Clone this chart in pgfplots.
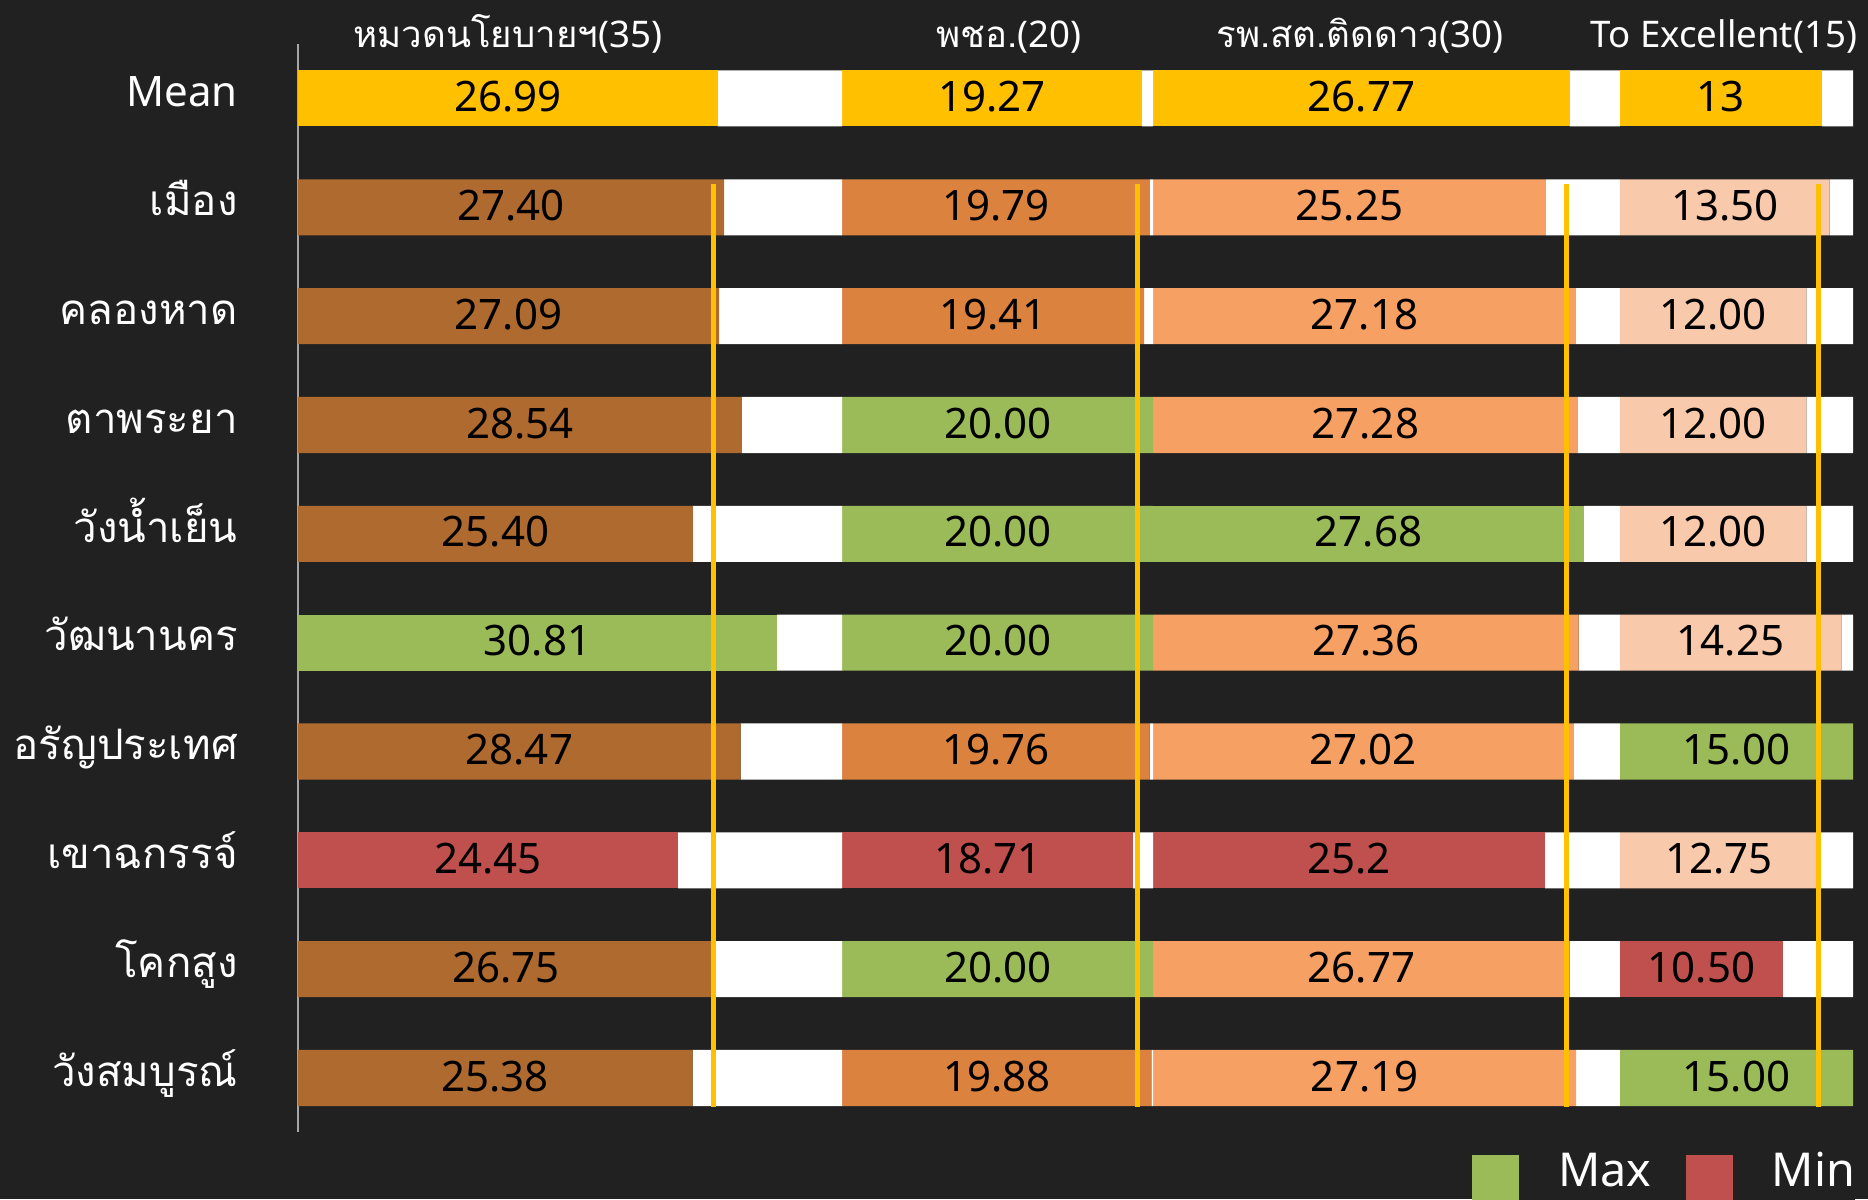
\documentclass[border=0pt]{standalone}
\usepackage{fontspec}
\setmainfont{Noto Sans}
\newfontfamily\thai[Script=Thai]{Loma}
\usepackage{pgfplots}
\usepackage{pgfplotstable}
\pgfplotsset{compat=1.18}
\definecolor{bgc}{RGB}{33,33,33}
\definecolor{cmean}{RGB}{255,192,0}
\definecolor{csa}{RGB}{174,106,47}
\definecolor{csb}{RGB}{218,130,62}
\definecolor{csc}{RGB}{247,160,99}
\definecolor{csd}{RGB}{249,201,172}
\definecolor{cmax}{RGB}{155,187,89}
\definecolor{cmin}{RGB}{192,80,77}

% class: 0 = mean, 1 = normal, 2 = max, 3 = min
\pgfplotstableread{
r a ca b cb c cc d cd
0 26.99 0 19.27 0 26.77 0 13 0
1 27.40 1 19.79 1 25.25 1 13.50 1
2 27.09 1 19.41 1 27.18 1 12.00 1
3 28.54 1 20.00 2 27.28 1 12.00 1
4 25.40 1 20.00 2 27.68 2 12.00 1
5 30.81 2 20.00 2 27.36 1 14.25 1
6 28.47 1 19.76 1 27.02 1 15.00 2
7 24.45 3 18.71 3 25.2 3 12.75 1
8 26.75 1 20.00 2 26.77 1 10.50 3
9 25.38 1 19.88 1 27.19 1 15.00 2
}\data

\newcommand\seg[4]{%
  \addplot[fill=cmean] table[y=r, x expr={\thisrow{#2}==0 ? \thisrow{#1} : 0}] {\data};
  \addplot[fill=#4] table[y=r, x expr={\thisrow{#2}==1 ? \thisrow{#1} : 0}] {\data};
  \addplot[fill=cmax] table[y=r, x expr={\thisrow{#2}==2 ? \thisrow{#1} : 0}] {\data};
  \addplot[fill=cmin] table[y=r, x expr={\thisrow{#2}==3 ? \thisrow{#1} : 0}] {\data};
  \addplot[fill=white] table[y=r, x expr={#3-\thisrow{#1}}] {\data};
}

\pgfplotsset{
  common/.style={
    width=466.5pt, height=326.5pt, scale only axis,
    xmin=0, xmax=100, ymin=-0.5, ymax=9.5, y dir=reverse,
    major tick length=0pt,
  },
  numlab/.style={forget plot, draw=none, mark=none, nodes near coords,
    point meta=explicit symbolic,
    every node near coord/.append style={anchor=base, yshift=-3.95pt,
      font=\fontsize{12.6}{15}\selectfont, text=black, inner sep=0pt}},
  meanline/.style={forget plot, cmean, line width=1.5pt},
  maxleg/.style={legend image code/.code={\fill[cmax] (0pt,-30pt) rectangle (13.8pt,5.0pt);}},
  minleg/.style={legend image code/.code={\fill[cmin] (0pt,-30pt) rectangle (13.8pt,5.0pt);}},
}

\begin{document}
\begin{tikzpicture}
\fill[bgc] (-89.4pt,-19.98pt) rectangle (471.0pt,339.72pt);
\begin{axis}[common,
  xbar stacked, bar width=0.515,
  axis x line=none, axis y line*=left,
  y axis line style={draw=gray!70, line width=0.45pt},
  xtick=\empty,
  ytick={0,...,9},
  yticklabels={Mean,{\thai เมือง},{\thai คลองหาด},{\thai ตาพระยา},{\thai วังน้ำเย็น},{\thai วัฒนานคร},{\thai อรัญประเทศ},{\thai เขาฉกรรจ์},{\thai โคกสูง},{\thai วังสมบูรณ์}},
  yticklabel style={anchor=base east, xshift=-17.9pt, yshift=-2.5pt, inner sep=0pt,
    text=white, font=\fontsize{12.6}{15}\selectfont},
  every axis plot/.append style={draw=none},
]
\seg{a}{ca}{35}{csa}
\seg{b}{cb}{20}{csb}
\seg{c}{cc}{30}{csc}
\seg{d}{cd}{15}{csd}
\end{axis}
\begin{axis}[common,
  clip=false,
  axis line style={draw=none},
  ytick=\empty,
  xtick={13.5,45.7,68.3,91.7},
  xticklabels={{\thai หมวดนโยบายฯ}(35),{\thai พชอ.}(20),{\thai รพ.สต.ติดดาว}(30),To Excellent(15)},
  xticklabel pos=upper,
  xticklabel style={anchor=base, yshift=-0.9pt, inner sep=0pt, text=white,
    font=\fontsize{11}{13}\selectfont},
  legend columns=2,
  legend cell align=left,
  legend style={at={(0.7550,-0.0184)}, anchor=north west, draw=none, fill=bgc,
    inner sep=0pt, outer sep=0pt, text=white,
    font=\fontsize{14}{16}\selectfont,
    nodes={inner sep=0pt},
    /tikz/every odd column/.append style={column sep=11.6pt},
    /tikz/every even column/.append style={column sep=10.4pt}},
]
\addlegendimage{maxleg}
\addlegendentry{Max}
\addlegendimage{minleg}
\addlegendentry{Min}
\addplot[numlab] table[y=r, x expr={\thisrow{a}/2}, meta=a] {\data};
\addplot[numlab] table[y=r, x expr={35+\thisrow{b}/2}, meta=b] {\data};
\addplot[numlab] table[y=r, x expr={55+\thisrow{c}/2}, meta=c] {\data};
\addplot[numlab] table[y=r, x expr={85+\thisrow{d}/2}, meta=d] {\data};
\addplot[meanline] coordinates {(26.75,0.79) (26.75,9.27)};
\addplot[meanline] coordinates {(54.0,0.79) (54.0,9.27)};
\addplot[meanline] coordinates {(81.55,0.79) (81.55,9.27)};
\addplot[meanline] coordinates {(97.78,0.79) (97.78,9.27)};
\end{axis}
\pgfresetboundingbox
\path[use as bounding box] (-89.4pt,-19.98pt) rectangle (471.0pt,339.72pt);
\end{tikzpicture}
\end{document}
